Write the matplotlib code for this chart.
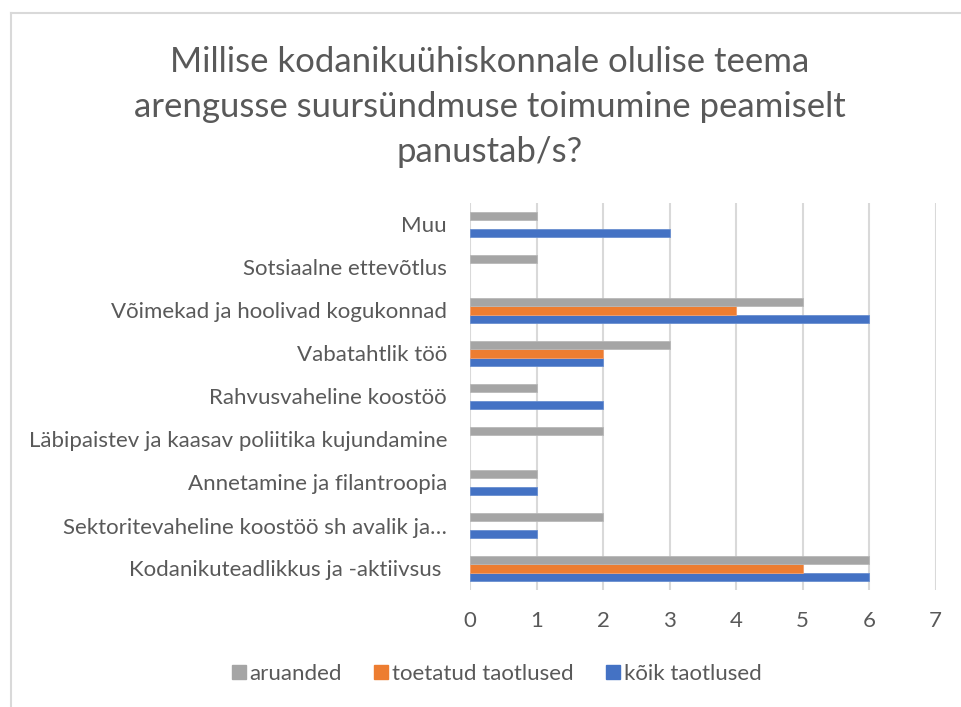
import matplotlib

matplotlib.use("Agg")
import matplotlib.pyplot as plt  # noqa: E402
import numpy as np  # noqa: E402
from matplotlib.lines import Line2D  # noqa: E402

# categories bottom -> top
categories = [
    "Kodanikuteadlikkus ja -aktiivsus ",
    "Sektoritevaheline koostöö sh avalik ja…",
    "Annetamine ja filantroopia",
    "Läbipaistev ja kaasav poliitika kujundamine",
    "Rahvusvaheline koostöö",
    "Vabatahtlik töö",
    "Võimekad ja hoolivad kogukonnad",
    "Sotsiaalne ettevõtlus",
    "Muu",
]
aruanded = [6, 2, 1, 2, 1, 3, 5, 1, 1]
toetatud_taotlused = [5, 0, 0, 0, 0, 2, 4, 0, 0]
koik_taotlused = [6, 1, 1, 0, 2, 2, 6, 0, 3]
series_names = ["aruanded", "toetatud taotlused", "kõik taotlused"]
x_ticks = [0, 1, 2, 3, 4, 5, 6, 7]

TEXT = "#595959"
GRID = "#D9D9D9"
colors = ["#A5A5A5", "#ED7D31", "#4472C4"]
edges = ["#B8B8B8", "#F2A070", "#6A8FD0"]

plt.rcParams["font.family"] = ["Lato", "DejaVu Sans"]

fig = plt.figure(figsize=(9.61, 7.07), dpi=100)
ax = fig.add_axes([470 / 961, 1 - 590 / 707, (935.6 - 470) / 961, (590 - 203) / 707])

y = np.arange(len(categories))
h = 0.2
for vals, offset, c, ec in zip(
    [koik_taotlused, toetatud_taotlused, aruanded], [-h, 0, h], colors[::-1], edges[::-1]
):
    vals = np.array(vals, dtype=float)
    nz = vals > 0
    ax.barh(
        y[nz] + offset, vals[nz], height=h, color=c, edgecolor=ec, linewidth=0.6, zorder=3
    )

ax.set_xlim(0, 7)
ax.set_ylim(-0.5, len(categories) - 0.5)
ax.set_xticks(x_ticks)
ax.set_yticks(y, categories)
ax.grid(axis="x", color=GRID, linewidth=1.5, zorder=0)
for s in ax.spines.values():
    s.set_visible(False)
ax.tick_params(length=0, colors=TEXT, labelsize=16)
ax.tick_params(axis="x", pad=15, labelsize=16)
ax.tick_params(axis="y", pad=16.5)

fig.text(
    490 / 961,
    1 - 107 / 707,
    "Millise kodanikuühiskonnale olulise teema\n"
    "arengusse suursündmuse toimumine peamiselt\n"
    "panustab/s?",
    ha="center",
    va="center",
    fontsize=25,
    color=TEXT,
    linespacing=1.5,
)

handles = [
    Line2D([], [], marker="s", linestyle="none", markersize=10.5, color=c) for c in colors
]
fig.legend(
    handles,
    series_names,
    loc="center",
    bbox_to_anchor=(495 / 961, 1 - 674 / 707),
    ncol=3,
    frameon=False,
    fontsize=16,
    labelcolor=TEXT,
    handletextpad=0.05,
    columnspacing=1.3,
    handlelength=0.9,
)

# chart border (only left and top edges visible)
fig.add_artist(Line2D([11 / 961, 11 / 961], [0, 1 - 13 / 707], color=GRID, linewidth=1.5))
fig.add_artist(Line2D([11 / 961, 1], [1 - 13 / 707, 1 - 13 / 707], color=GRID, linewidth=1.5))

fig.savefig("out.png", dpi=100)
